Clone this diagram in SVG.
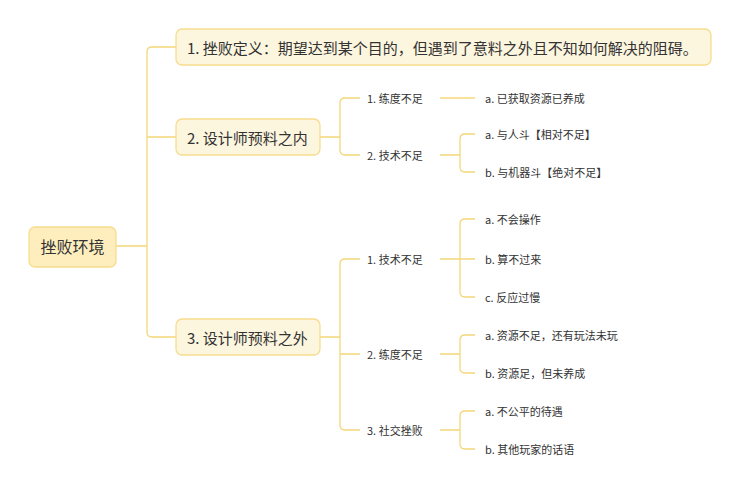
<svg xmlns="http://www.w3.org/2000/svg" width="741" height="495" viewBox="0 0 741 495">
<style>
.c{fill:none;stroke:#f4d77a;stroke-width:1.3}
.b{fill:#fdf6df;stroke:#f7dc8f;stroke-width:1.3}
.r{fill:#feeebe;stroke:#f7dc8f;stroke-width:1.3}
text{font-family:"Noto Sans CJK SC","Liberation Sans",sans-serif;fill:#333;dominant-baseline:central}
.l1{font-size:15px}
.s{font-size:11px}
</style>
<rect width="741" height="495" fill="#fff"/>
<g id="connectors">
<path class="c" d="M116 246H147M176 47H152Q147 47 147 52V332Q147 337 152 337H176M147 137H176"/>
<path class="c" d="M320 137H340M360 98H345Q340 98 340 103V150Q340 155 345 155H360"/>
<path class="c" d="M440 98H475"/>
<path class="c" d="M440 155H460M475 134H465Q460 134 460 139V167Q460 172 465 172H475"/>
<path class="c" d="M320 337H340M360 259H345Q340 259 340 264V425Q340 430 345 430H360M340 354H360"/>
<path class="c" d="M440 259H460M475 219H465Q460 219 460 224V292Q460 297 465 297H475M460 259H475"/>
<path class="c" d="M440 354H460M475 335H465Q460 335 460 340V368Q460 373 465 373H475"/>
<path class="c" d="M440 430H460M475 411H465Q460 411 460 416V444Q460 449 465 449H475"/>
</g>
<g id="root"><rect class="r" x="29" y="227" width="87" height="40" rx="6"/><text x="72.5" y="246" font-size="16" text-anchor="middle">挫败环境</text></g>
<g id="n1"><rect class="b" x="176" y="29" width="535" height="36" rx="6"/><text class="l1" x="187" y="47">1. 挫败定义：期望达到某个目的，但遇到了意料之外且不知如何解决的阻碍。</text></g>
<g id="n2"><rect class="b" x="176" y="119" width="144" height="36" rx="6"/><text class="l1" x="187" y="137">2. 设计师预料之内</text></g>
<g id="n3"><rect class="b" x="176" y="319" width="144" height="36" rx="6"/><text class="l1" x="187" y="337">3. 设计师预料之外</text></g>
<g id="n2-1"><text class="s" x="367" y="98">1. 练度不足</text></g>
<g id="n2-1a"><text class="s" x="485" y="98">a. 已获取资源已养成</text></g>
<g id="n2-2"><text class="s" x="367" y="155">2. 技术不足</text></g>
<g id="n2-2a"><text class="s" x="485" y="134">a. 与人斗【相对不足】</text></g>
<g id="n2-2b"><text class="s" x="485" y="172">b. 与机器斗【绝对不足】</text></g>
<g id="n3-1"><text class="s" x="367" y="259">1. 技术不足</text></g>
<g id="n3-1a"><text class="s" x="485" y="219">a. 不会操作</text></g>
<g id="n3-1b"><text class="s" x="485" y="259">b. 算不过来</text></g>
<g id="n3-1c"><text class="s" x="485" y="297">c. 反应过慢</text></g>
<g id="n3-2"><text class="s" x="367" y="354">2. 练度不足</text></g>
<g id="n3-2a"><text class="s" x="485" y="335">a. 资源不足，还有玩法未玩</text></g>
<g id="n3-2b"><text class="s" x="485" y="373">b. 资源足，但未养成</text></g>
<g id="n3-3"><text class="s" x="367" y="430">3. 社交挫败</text></g>
<g id="n3-3a"><text class="s" x="485" y="411">a. 不公平的待遇</text></g>
<g id="n3-3b"><text class="s" x="485" y="449">b. 其他玩家的话语</text></g>
</svg>
